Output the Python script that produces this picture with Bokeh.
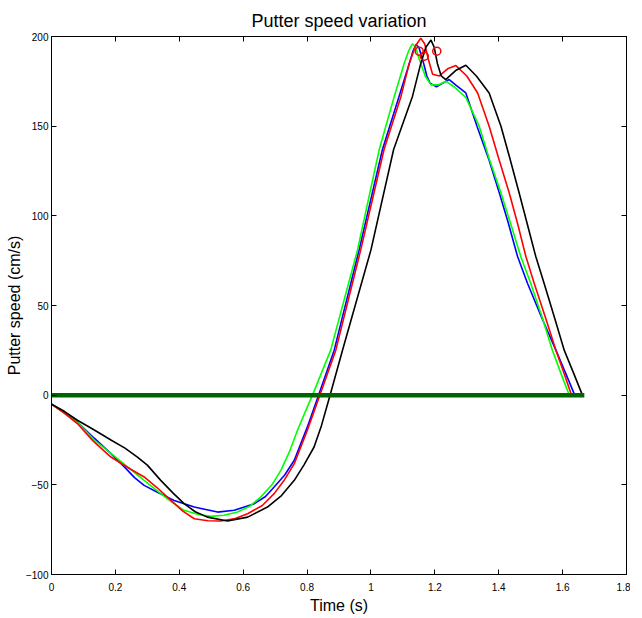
from bokeh.plotting import figure
from bokeh.models import Range1d, FixedTicker, LinearAxis
from bokeh.embed import file_html
from bokeh.resources import INLINE

# ---- data ----
t_blue = [0, 0.04, 0.081, 0.134, 0.186, 0.228, 0.26, 0.290, 0.33, 0.384, 0.447, 0.520, 0.572, 0.635, 0.67,
          0.697, 0.73, 0.760, 0.801, 0.836, 0.885, 0.963, 1.036, 1.088, 1.120, 1.132, 1.141, 1.150, 1.165,
          1.175, 1.185, 1.205, 1.225, 1.245, 1.265, 1.297, 1.332, 1.37, 1.402, 1.43, 1.459, 1.490, 1.535,
          1.579, 1.61, 1.638]
v_blue = [-5, -9.5, -15, -24, -32.6, -40, -46, -50.3, -54, -58.7, -62.4, -65.2, -64.2, -60.5, -56.5,
          -51.2, -44.5, -36.3, -17.7, 0, 25.1, 81, 137, 166.6, 185, 192, 195.5, 194, 185,
          178, 174, 172, 174, 176, 173, 168.5, 150, 131, 112.7, 96, 77.3, 62.4, 43,
          25.1, 12, 0]

t_green = [0, 0.04, 0.081, 0.134, 0.19, 0.238, 0.29, 0.342, 0.38, 0.415, 0.46, 0.499, 0.54, 0.582, 0.62,
           0.655, 0.69, 0.718, 0.745, 0.770, 0.795, 0.817, 0.874, 0.958, 1.026, 1.073, 1.104, 1.118,
           1.130, 1.140, 1.150, 1.170, 1.188, 1.210, 1.235, 1.260, 1.297, 1.339, 1.37, 1.407, 1.44,
           1.469, 1.500, 1.535, 1.568, 1.595, 1.621]
v_green = [-5, -10, -15, -25, -33, -40, -47.5, -54.9, -60, -64.2, -66.5, -67.6, -67, -65.2, -62,
           -56.8, -50, -41.9, -31.5, -19.6, -9, 0, 25.1, 81, 137, 166.6, 185, 192,
           196, 194, 188, 178, 173, 173, 175, 172, 166, 150, 132, 112.7, 94,
           77.3, 62.4, 44, 25.1, 12, 0]

t_red = [0, 0.04, 0.081, 0.13, 0.186, 0.24, 0.290, 0.33, 0.374, 0.41, 0.447, 0.49, 0.530, 0.575, 0.614,
         0.66, 0.697, 0.73, 0.760, 0.801, 0.840, 0.890, 0.968, 1.041, 1.094, 1.120, 1.140, 1.156, 1.168,
         1.180, 1.193, 1.214, 1.240, 1.266, 1.300, 1.334, 1.370, 1.40, 1.433, 1.46, 1.485, 1.511, 1.545,
         1.579, 1.605, 1.628]
v_red = [-5, -10, -15.8, -25.5, -34.5, -40.5, -45.6, -51.5, -58.7, -64.5, -68.9, -70, -70.2, -68.8, -66.1,
         -61.5, -54.9, -47, -38.2, -19.6, 0, 25.1, 81, 137, 166.6, 185, 195, 199, 196,
         187, 179, 178, 182, 183.8, 178, 168.5, 150, 132, 112.7, 95, 77.3, 62.4, 44,
         25.1, 12, 0]

t_black = [0, 0.04, 0.081, 0.13, 0.186, 0.23, 0.269, 0.30, 0.342, 0.38, 0.415, 0.45, 0.488, 0.551, 0.614,
           0.676, 0.72, 0.760, 0.79, 0.822, 0.845, 0.872, 0.911, 1.000, 1.071, 1.130, 1.156, 1.172,
           1.188, 1.198, 1.208, 1.220, 1.234, 1.265, 1.297, 1.330, 1.370, 1.407, 1.435, 1.464, 1.49,
           1.516, 1.542, 1.575, 1.605, 1.635, 1.662]
v_black = [-5, -9, -14, -19, -25, -29.5, -34.5, -39, -47.5, -54.5, -60.5, -65, -68, -70.2, -68,
           -62.4, -56, -47.5, -39, -28.9, -17, 0, 25, 81, 137, 166.6, 185, 194,
           198, 194, 185, 178, 176, 181, 184, 178, 168.5, 150, 132, 112.7, 95,
           77.3, 62.4, 43, 25.1, 12, 0]

t_zero = [0, 1.668]
v_zero = [0, 0]

t_marks = [1.151, 1.167, 1.206]
v_marks = [191.8, 189, 191.8]

x_ticks = [0, 0.2, 0.4, 0.6, 0.8, 1, 1.2, 1.4, 1.6, 1.8]
x_tick_labels = ["0", "0.2", "0.4", "0.6", "0.8", "1", "1.2", "1.4", "1.6", "1.8"]
y_ticks = [-100, -50, 0, 50, 100, 150, 200]

FONT = "Liberation Sans, Arial, sans-serif"

p = figure(frame_width=575, frame_height=538, output_backend="svg", toolbar_location=None,
           x_range=Range1d(0, 1.8), y_range=Range1d(-100, 200),
           min_border_left=51, min_border_right=4, min_border_top=36, min_border_bottom=38,
           title="Putter speed variation")

p.title.align = "center"
p.title.text_font = FONT
p.title.text_font_size = "18px"
p.title.text_font_style = "normal"
p.title.text_color = "black"
p.title.standoff = 12

p.grid.visible = False
p.outline_line_color = "black"
p.outline_line_width = 1
p.background_fill_color = "white"
p.border_fill_color = "white"

for ax in (p.xaxis[0], p.yaxis[0]):
    ax.major_tick_in = 5
    ax.major_tick_out = 0
    ax.minor_tick_in = 0
    ax.minor_tick_out = 0
    ax.major_tick_line_color = "black"
    ax.major_label_text_font = FONT
    ax.major_label_text_font_size = "10px"
    ax.major_label_text_color = "black"
    ax.axis_label_text_font = FONT
    ax.axis_label_text_font_size = "16px"
    ax.axis_label_text_font_style = "normal"
    ax.axis_label_text_color = "black"
    ax.axis_line_color = "black"

p.xaxis[0].ticker = FixedTicker(ticks=x_ticks)
p.xaxis[0].major_label_overrides = dict(zip(x_ticks, x_tick_labels))
p.xaxis[0].axis_label = "Time (s)"
p.xaxis[0].major_label_standoff = 8
p.xaxis[0].axis_label_standoff = 3

p.yaxis[0].ticker = FixedTicker(ticks=y_ticks)
p.yaxis[0].axis_label = "Putter speed (cm/s)"
p.yaxis[0].major_label_standoff = 3
p.yaxis[0].axis_label_standoff = 0

for side, tk in (("above", x_ticks), ("right", y_ticks)):
    ax = LinearAxis(ticker=FixedTicker(ticks=tk), major_tick_in=5, major_tick_out=0,
                    minor_tick_in=0, minor_tick_out=0, major_label_text_font_size="1px",
                    major_label_text_color=None, major_label_standoff=0,
                    major_tick_line_color="black", axis_line_color="black")
    p.add_layout(ax, side)

p.line(t_blue, v_blue, line_color="#0000ff", line_width=1.6)
p.line(t_green, v_green, line_color="#00ff00", line_width=1.6)
p.line(t_red, v_red, line_color="#ff0000", line_width=1.6)
p.line(t_black, v_black, line_color="#000000", line_width=1.6)
p.line(t_zero, v_zero, line_color="#006400", line_width=4.5)
p.scatter(t_marks, v_marks, marker="circle", size=8, fill_color=None,
          line_color="#ff0000", line_width=1.5)

open("out.html", "w").write(file_html(p, INLINE))
